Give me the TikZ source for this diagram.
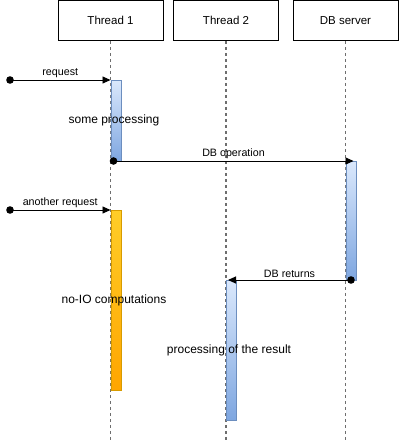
\documentclass[tikz,border=0pt]{standalone}
\usepackage{fontspec}
\setmainfont{Liberation Sans}
\usetikzlibrary{arrows.meta}
\definecolor{blueTop}{HTML}{DAE8FC}
\definecolor{blueBot}{HTML}{7EA6E0}
\definecolor{blueLine}{HTML}{6C8EBF}
\definecolor{yelTop}{HTML}{FFCD28}
\definecolor{yelBot}{HTML}{FFA500}
\definecolor{yelLine}{HTML}{D79B00}
\definecolor{lifeGray}{HTML}{6E6E6E}
\begin{document}
\begin{tikzpicture}[x=1pt,y=-1pt,
  head/.style={draw, line width=0.9pt, minimum width=105pt, minimum height=40pt, inner sep=0pt, font=\fontsize{11.5}{13}\selectfont},
  life/.style={draw=lifeGray, line width=1.8pt, dash pattern=on 3pt off 3pt},
  bluebar/.style={draw=blueLine, line width=0.8pt, top color=blueTop, bottom color=blueBot, minimum width=10pt, inner sep=0pt, anchor=north west},
  yelbar/.style={draw=yelLine, line width=0.8pt, top color=yelTop, bottom color=yelBot, minimum width=10pt, inner sep=0pt, anchor=north west},
  msg/.style={-{Triangle[length=8pt,width=7pt]}, line width=0.9pt},
  lbl/.style={font=\fontsize{10.7}{12}\selectfont, inner sep=2pt},
  note/.style={font=\fontsize{12}{14}\selectfont, inner sep=0pt},
  dotr/.style={fill=black}
]
\useasboundingbox (0,0) rectangle (400,442);
% headers
\node[head] (t1) at (110.5,20.5) {Thread 1};
\node[head] (t2) at (226,20.5) {Thread 2};
\node[head] (db) at (345.5,20.5) {DB server};
% lifeline ends
\coordinate (e1) at (110.5,442);
\coordinate (e2) at (226,442);
\coordinate (e3) at (345.5,442);
\draw[life] (t1.south) -- (e1);
\draw[life] (t2.south) -- (e2);
\draw[life] (db.south) -- (e3);
% activation bars
\node[bluebar, minimum height=81pt] (b1) at (110.5,80) {};
\node[yelbar, minimum height=180pt] (y1) at (110.5,210) {};
\node[bluebar, minimum height=119pt] (b3) at (345.5,161) {};
\node[bluebar, minimum height=140pt] (b4) at (226,280) {};
% messages
\coordinate (s1) at (10,80);
\fill[dotr] (s1) circle (3.8pt);
\draw[msg] (s1) -- (b1.north west) node[midway, above, lbl] {request};
\coordinate (s2) at (10,210);
\fill[dotr] (s2) circle (3.8pt);
\draw[msg] (s2) -- (y1.north west) node[midway, above, lbl] {another request};
\coordinate (s3) at (113.5,161);
\coordinate (t3) at (353.5,161);
\fill[dotr] (s3) circle (3.8pt);
\draw[msg] (s3) -- (t3) node[midway, above, lbl] {DB operation};
\coordinate (s4) at (351,280);
\coordinate (t4) at (228,280);
\fill[dotr] (s4) circle (3.8pt);
\draw[msg] (s4) -- (t4) node[midway, above, lbl] {DB returns};
% notes
\node[note] (n1) at (114,120) {some processing};
\node[note] (n2) at (114,300) {no-IO computations};
\node[note] (n3) at (229,350) {processing of the result};
\end{tikzpicture}
\end{document}
